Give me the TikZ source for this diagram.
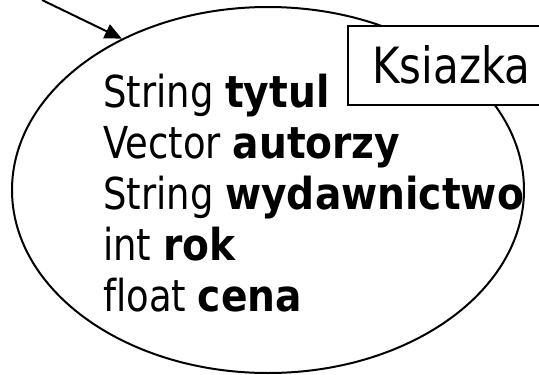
\documentclass[tikz,border=0pt]{standalone}
\usepackage{fontspec}
\setmainfont{DejaVu Sans}[FakeStretch=0.84, Ligatures=NoCommon, BoldFont={DejaVu Sans Bold}, BoldFeatures={FakeStretch=0.89}]
\usetikzlibrary{arrows.meta,shapes.geometric}
\tikzset{
  line/.style={line width=2pt, draw=black},
  attr/.style={anchor=base west, inner sep=0pt, font=\fontsize{44}{51}\selectfont},
  titlebox/.style={line, fill=white, anchor=north west, minimum width=196pt, minimum height=79pt, inner sep=0pt}
}
\begin{document}
\begin{tikzpicture}[x=1pt,y=-1pt]
\useasboundingbox (0,0) rectangle (539,375);
\node[ellipse, line, minimum width=512pt, minimum height=366pt, inner sep=0pt] (ell) at (268,190) {};
\coordinate (src) at (42,0);
\draw[line, -{Triangle[length=17pt,width=15pt]}] (src) -- (ell.134);
\node[titlebox] (box) at (347,25) {};
\node[anchor=base west, inner sep=0pt, font=\fontsize{50}{56}\selectfont] (title) at (372,83) {Ksiazka};
\node[attr] (l1) at (103,107) {String \textbf{tytul}};
\node[attr] (l2) at (103,158) {Vector \textbf{autorzy}};
\node[attr] (l3) at (103,209) {String \textbf{wydawnictwo}};
\node[attr] (l4) at (103,260) {int \textbf{rok}};
\node[attr] (l5) at (103,311) {float \textbf{cena}};
\end{tikzpicture}
\end{document}
